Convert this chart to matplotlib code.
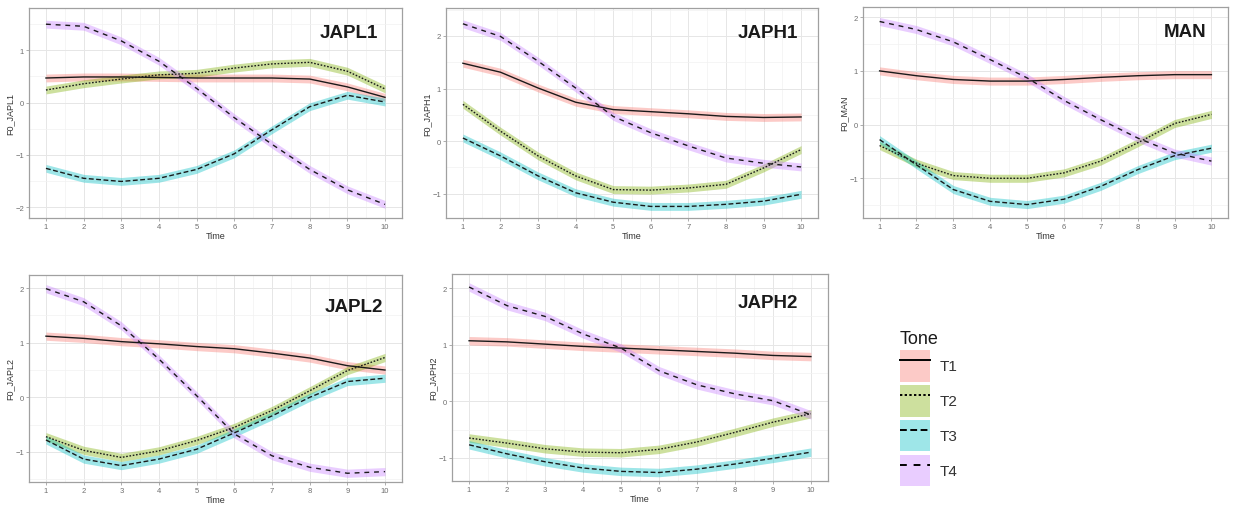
import matplotlib
matplotlib.use("Agg")
import matplotlib.pyplot as plt
from matplotlib.patches import Patch
from matplotlib.lines import Line2D
import numpy as np

plt.rcParams['font.family'] = ['Liberation Sans', 'DejaVu Sans']

time = [1, 2, 3, 4, 5, 6, 7, 8, 9, 10]
tones = ["T1", "T2", "T3", "T4"]

japl1 = {
    "T1": [0.47, 0.49, 0.49, 0.48, 0.47, 0.47, 0.47, 0.45, 0.30, 0.10],
    "T2": [0.24, 0.36, 0.45, 0.53, 0.56, 0.66, 0.74, 0.77, 0.60, 0.26],
    "T3": [-1.26, -1.45, -1.51, -1.45, -1.28, -0.98, -0.52, -0.08, 0.14, 0.01],
    "T4": [1.50, 1.46, 1.18, 0.79, 0.27, -0.29, -0.80, -1.28, -1.67, -1.95],
}
japh1 = {
    "T1": [1.48, 1.31, 1.01, 0.74, 0.60, 0.56, 0.52, 0.47, 0.45, 0.46],
    "T2": [0.70, 0.19, -0.28, -0.66, -0.92, -0.93, -0.89, -0.82, -0.51, -0.16],
    "T3": [0.06, -0.28, -0.66, -0.98, -1.16, -1.24, -1.24, -1.20, -1.14, -1.01],
    "T4": [2.23, 1.99, 1.52, 1.01, 0.47, 0.16, -0.09, -0.32, -0.42, -0.49],
}
man = {
    "T1": [1.00, 0.91, 0.84, 0.81, 0.81, 0.84, 0.88, 0.91, 0.93, 0.93],
    "T2": [-0.39, -0.72, -0.95, -1.00, -1.00, -0.90, -0.68, -0.34, 0.02, 0.19],
    "T3": [-0.28, -0.75, -1.21, -1.43, -1.49, -1.39, -1.15, -0.84, -0.58, -0.44],
    "T4": [1.92, 1.77, 1.54, 1.21, 0.87, 0.45, 0.09, -0.25, -0.53, -0.68],
}
japl2 = {
    "T1": [1.12, 1.08, 1.02, 0.98, 0.93, 0.89, 0.81, 0.72, 0.58, 0.50],
    "T2": [-0.72, -0.97, -1.10, -0.98, -0.79, -0.55, -0.24, 0.12, 0.49, 0.73],
    "T3": [-0.78, -1.13, -1.25, -1.13, -0.95, -0.65, -0.34, 0.00, 0.29, 0.35],
    "T4": [1.99, 1.75, 1.31, 0.70, 0.03, -0.67, -1.07, -1.28, -1.39, -1.36],
}
japh2 = {
    "T1": [1.07, 1.05, 1.01, 0.97, 0.94, 0.91, 0.88, 0.85, 0.81, 0.79],
    "T2": [-0.65, -0.74, -0.84, -0.90, -0.91, -0.85, -0.72, -0.55, -0.37, -0.22],
    "T3": [-0.77, -0.93, -1.07, -1.18, -1.24, -1.26, -1.20, -1.11, -1.01, -0.90],
    "T4": [2.02, 1.69, 1.50, 1.19, 0.94, 0.54, 0.29, 0.13, 0.01, -0.24],
}
ribbon_half = 0.075

colors = {"T1": "#F8766D", "T2": "#7CAE00", "T3": "#00BFC4", "T4": "#C77CFF"}
dashes = {"T1": None, "T2": (1.2, 1.2), "T3": (3.5, 1.8), "T4": (3.5, 3.5)}

W, H = 1235, 506
fig = plt.figure(figsize=(W / 100, H / 100), dpi=100)

def px_axes(l, t, r, b):
    return fig.add_axes([l / W, 1 - b / H, (r - l) / W, (b - t) / H])

panels = [
    ("JAPL1", japl1, (29, 9, 402, 219), (-2.21, 1.81), [-2, -1, 0, 1], (0.936, 0.925)),
    ("JAPH1", japh1, (446, 9, 818, 219), (-1.46, 2.53), [-1, 0, 1, 2], (0.946, 0.925)),
    ("MAN", man, (863, 8, 1228, 219), (-1.74, 2.19), [-1, 0, 1, 2], (0.942, 0.925)),
    ("JAPL2", japl2, (29, 276, 402, 483), (-1.55, 2.24), [-1, 0, 1, 2], (0.949, 0.89)),
    ("JAPH2", japh2, (452, 275, 828, 482), (-1.41, 2.25), [-1, 0, 1, 2], (0.92, 0.905)),
]

for name, data, box, ylim, yticks, tpos in panels:
    ax = px_axes(*box)
    ax.set_xlim(0.55, 10.45)
    ax.set_ylim(*ylim)
    ax.set_xticks(time)
    ax.set_yticks(yticks)
    ax.set_xticks(np.arange(1.5, 10, 1), minor=True)
    ax.set_yticks(np.arange(np.ceil(ylim[0] * 2) / 2, ylim[1], 0.5), minor=True)
    ax.grid(which="major", color="#E6E6E6", lw=0.7)
    ax.grid(which="minor", color="#F2F2F2", lw=0.5)
    ax.set_axisbelow(True)
    for s in ax.spines.values():
        s.set_color("#A0A0A0")
        s.set_linewidth(0.9)
    ax.tick_params(which="both", length=2, width=0.6, color="#A0A0A0",
                   labelsize=5.5, labelcolor="#6E6E6E", pad=1.5)
    ax.tick_params(which="minor", length=0)
    for t in tones:
        y = np.array(data[t])
        ax.fill_between(time, y - ribbon_half, y + ribbon_half,
                        color=colors[t], alpha=0.38, lw=0)
    for t in tones:
        y = np.array(data[t])
        ln, = ax.plot(time, y, color="#1A1A1A", lw=1.0)
        if dashes[t] is not None:
            ln.set_dashes(dashes[t])
    ax.set_xlabel("Time", fontsize=6.5, color="#333333", labelpad=0.5)
    ax.set_ylabel("F0_" + name, fontsize=6.5, color="#333333", labelpad=1.0)
    ax.text(tpos[0], tpos[1], name, transform=ax.transAxes, ha="right", va="top",
            fontsize=13.5, fontweight="bold", color="#1A1A1A")

handles = []
for t in tones:
    p = Patch(facecolor=colors[t], alpha=0.38, edgecolor="none")
    ln = Line2D([], [], color="black", lw=1.4)
    if dashes[t] is not None:
        ln.set_dashes(dashes[t])
    handles.append((p, ln))

leg = fig.legend(handles, tones, loc="upper left",
                 bbox_to_anchor=(889 / W, 1 - 320 / H),
                 frameon=False, fontsize=11, title="Tone", title_fontsize=13,
                 handlelength=2.0, handleheight=2.8, labelspacing=0.22,
                 handletextpad=0.6, borderpad=0.2, alignment="left")
leg.get_title().set_color("#1A1A1A")
for txt in leg.get_texts():
    txt.set_color("#333333")

fig.savefig("out.png", dpi=100)
